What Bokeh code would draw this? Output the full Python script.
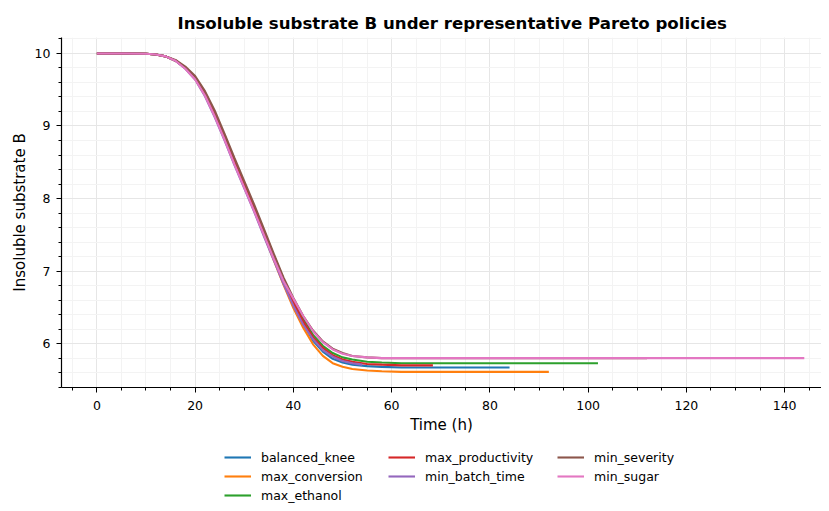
from bokeh.plotting import figure
from bokeh.layouts import column
from bokeh.models import Range1d, SingleIntervalTicker, Legend, LegendItem
from bokeh.embed import file_html
from bokeh.resources import INLINE

# ---- data ----
policies = ["balanced_knee", "max_conversion", "max_ethanol", "max_productivity",
            "min_batch_time", "min_severity", "min_sugar"]
colors = ["#1f77b4", "#ff7f0e", "#2ca02c", "#d62728", "#9467bd", "#8c564b", "#e377c2"]

t_common = [0, 6, 10, 12, 14, 16, 18, 20, 22, 24, 26, 28, 30, 32, 34, 36, 38, 40, 42, 44, 46, 48, 50, 52]

balanced_knee_t = t_common + [55, 58, 62, 84]
balanced_knee_y = [10.0, 10.0, 9.995, 9.985, 9.96, 9.90, 9.80, 9.66, 9.44, 9.16, 8.84, 8.50, 8.18, 7.86,
                   7.52, 7.18, 6.85, 6.54, 6.28, 6.04, 5.89, 5.79, 5.74, 5.71, 5.69, 5.68, 5.67, 5.67]

max_conversion_t = t_common + [55, 58, 62, 92]
max_conversion_y = [10.0, 10.0, 9.995, 9.985, 9.96, 9.90, 9.80, 9.65, 9.43, 9.15, 8.83, 8.49, 8.17, 7.84,
                    7.50, 7.15, 6.81, 6.49, 6.22, 5.99, 5.83, 5.73, 5.68, 5.65, 5.63, 5.62, 5.61, 5.61]

max_ethanol_t = t_common + [55, 58, 62, 102]
max_ethanol_y = [10.0, 10.0, 9.995, 9.985, 9.96, 9.90, 9.80, 9.67, 9.46, 9.18, 8.86, 8.52, 8.20, 7.88,
                 7.55, 7.22, 6.89, 6.59, 6.34, 6.12, 5.97, 5.87, 5.81, 5.78, 5.75, 5.74, 5.73, 5.73]

max_productivity_t = t_common + [55, 58, 62, 68.4]
max_productivity_y = [10.0, 10.0, 9.995, 9.985, 9.96, 9.90, 9.80, 9.66, 9.45, 9.17, 8.85, 8.51, 8.19, 7.87,
                      7.53, 7.20, 6.87, 6.57, 6.31, 6.09, 5.94, 5.84, 5.78, 5.75, 5.72, 5.71, 5.70, 5.70]

min_batch_time_t = t_common + [54]
min_batch_time_y = [10.0, 10.0, 9.995, 9.985, 9.96, 9.90, 9.79, 9.64, 9.41, 9.12, 8.80, 8.46, 8.14, 7.82,
                    7.48, 7.15, 6.82, 6.52, 6.26, 6.06, 5.91, 5.82, 5.76, 5.73, 5.71]

min_severity_t = t_common + [55, 58, 62, 112]
min_severity_y = [10.0, 10.0, 9.995, 9.985, 9.96, 9.91, 9.82, 9.69, 9.48, 9.21, 8.89, 8.56, 8.24, 7.92,
                  7.58, 7.24, 6.91, 6.63, 6.38, 6.18, 6.03, 5.93, 5.87, 5.83, 5.81, 5.80, 5.80, 5.80]

min_sugar_t = t_common + [55, 58, 62, 144]
min_sugar_y = [10.0, 10.0, 9.995, 9.985, 9.96, 9.90, 9.79, 9.64, 9.42, 9.13, 8.81, 8.47, 8.15, 7.83,
               7.50, 7.17, 6.86, 6.62, 6.38, 6.17, 6.02, 5.92, 5.86, 5.83, 5.81, 5.80, 5.80, 5.80]

series_t = [balanced_knee_t, max_conversion_t, max_ethanol_t, max_productivity_t,
            min_batch_time_t, min_severity_t, min_sugar_t]
series_y = [balanced_knee_y, max_conversion_y, max_ethanol_y, max_productivity_y,
            min_batch_time_y, min_severity_y, min_sugar_y]

title_text = "Insoluble substrate B under representative Pareto policies"
x_label = "Time (h)"
y_label = "Insoluble substrate B"

FONT = "DejaVu Sans"

p = figure(width=821, height=440, output_backend="svg", toolbar_location=None,
           x_range=Range1d(-7.2, 147.5), y_range=Range1d(5.395, 10.22),
           min_border_left=61, min_border_right=0, min_border_top=37, min_border_bottom=53)
p.outline_line_color = None
p.background_fill_color = "white"
p.border_fill_color = "white"

p.title.text = title_text
p.title.text_font = FONT
p.title.text_font_size = "16.6px"
p.title.text_font_style = "bold"
p.title.text_color = "black"
p.title.align = "left"
p.title.offset = 116
p.title.standoff = 9

for name, tt, yy, c in zip(policies, series_t, series_y, colors):
    p.line(tt, yy, line_color=c, line_width=2.1)

# axes
p.xaxis.ticker = SingleIntervalTicker(interval=20, num_minor_ticks=4)
p.yaxis.ticker = SingleIntervalTicker(interval=1, num_minor_ticks=5)
for ax in (p.xaxis[0], p.yaxis[0]):
    ax.axis_line_color = "black"
    ax.axis_line_width = 1.2
    ax.major_tick_line_color = "black"
    ax.minor_tick_line_color = "black"
    ax.major_tick_out = 5
    ax.major_tick_in = 0
    ax.minor_tick_out = 3
    ax.minor_tick_in = 0
    ax.major_label_text_font = FONT
    ax.major_label_text_font_size = "12.5px"
    ax.major_label_text_color = "black"
    ax.axis_label_text_font = FONT
    ax.axis_label_text_font_size = "15px"
    ax.axis_label_text_font_style = "normal"
    ax.axis_label_text_color = "black"
p.xaxis.axis_label = x_label
p.yaxis.axis_label = y_label
p.xaxis.major_label_standoff = 8
p.yaxis.major_label_standoff = 6
p.xaxis.axis_label_standoff = 3
p.yaxis.axis_label_standoff = 3

# grid
for g in (p.xgrid[0], p.ygrid[0]):
    g.grid_line_color = "#e6e6e6"
    g.grid_line_width = 1
    g.minor_grid_line_color = "#f3f3f3"
    g.minor_grid_line_width = 1

# legend strip below the chart (three columns, like the reference)
lg = figure(width=821, height=63, output_backend="svg", toolbar_location=None,
            x_range=Range1d(0, 1), y_range=Range1d(0, 1),
            x_axis_type=None, y_axis_type=None,
            min_border_left=0, min_border_right=0, min_border_top=0, min_border_bottom=0)
lg.outline_line_color = None
lg.xgrid.visible = False
lg.ygrid.visible = False
lg.border_fill_color = "white"
lg.background_fill_color = "white"

# legend swatches (a single off-range point each, only used for the legend key)
swatches = [lg.line([-5], [-5], line_color=c, line_width=2.1) for c in colors]

FRAME_SHIFT = 61  # the column layout aligns this strip's frame with the chart frame
col_groups = [[0, 1, 2], [3, 4], [5, 6]]
col_x = [224, 388, 557]
ROW_H = 16
GAP = 3
for grp, cx in zip(col_groups, col_x):
    items = [LegendItem(label=policies[i], renderers=[swatches[i]]) for i in grp]
    h = ROW_H * len(grp) + GAP * (len(grp) - 1)
    vy = 63 - 9 - h
    leg = Legend(items=items, location=(cx - FRAME_SHIFT, vy),
                 glyph_width=27, glyph_height=ROW_H, label_height=ROW_H, label_standoff=10,
                 spacing=GAP, padding=0, margin=0, border_line_color=None,
                 background_fill_alpha=0, label_text_font=FONT, label_text_font_size="12.5px",
                 label_text_color="black")
    lg.add_layout(leg, "center")

layout = column(p, lg, spacing=0)
open("out.html", "w").write(file_html(layout, INLINE))
